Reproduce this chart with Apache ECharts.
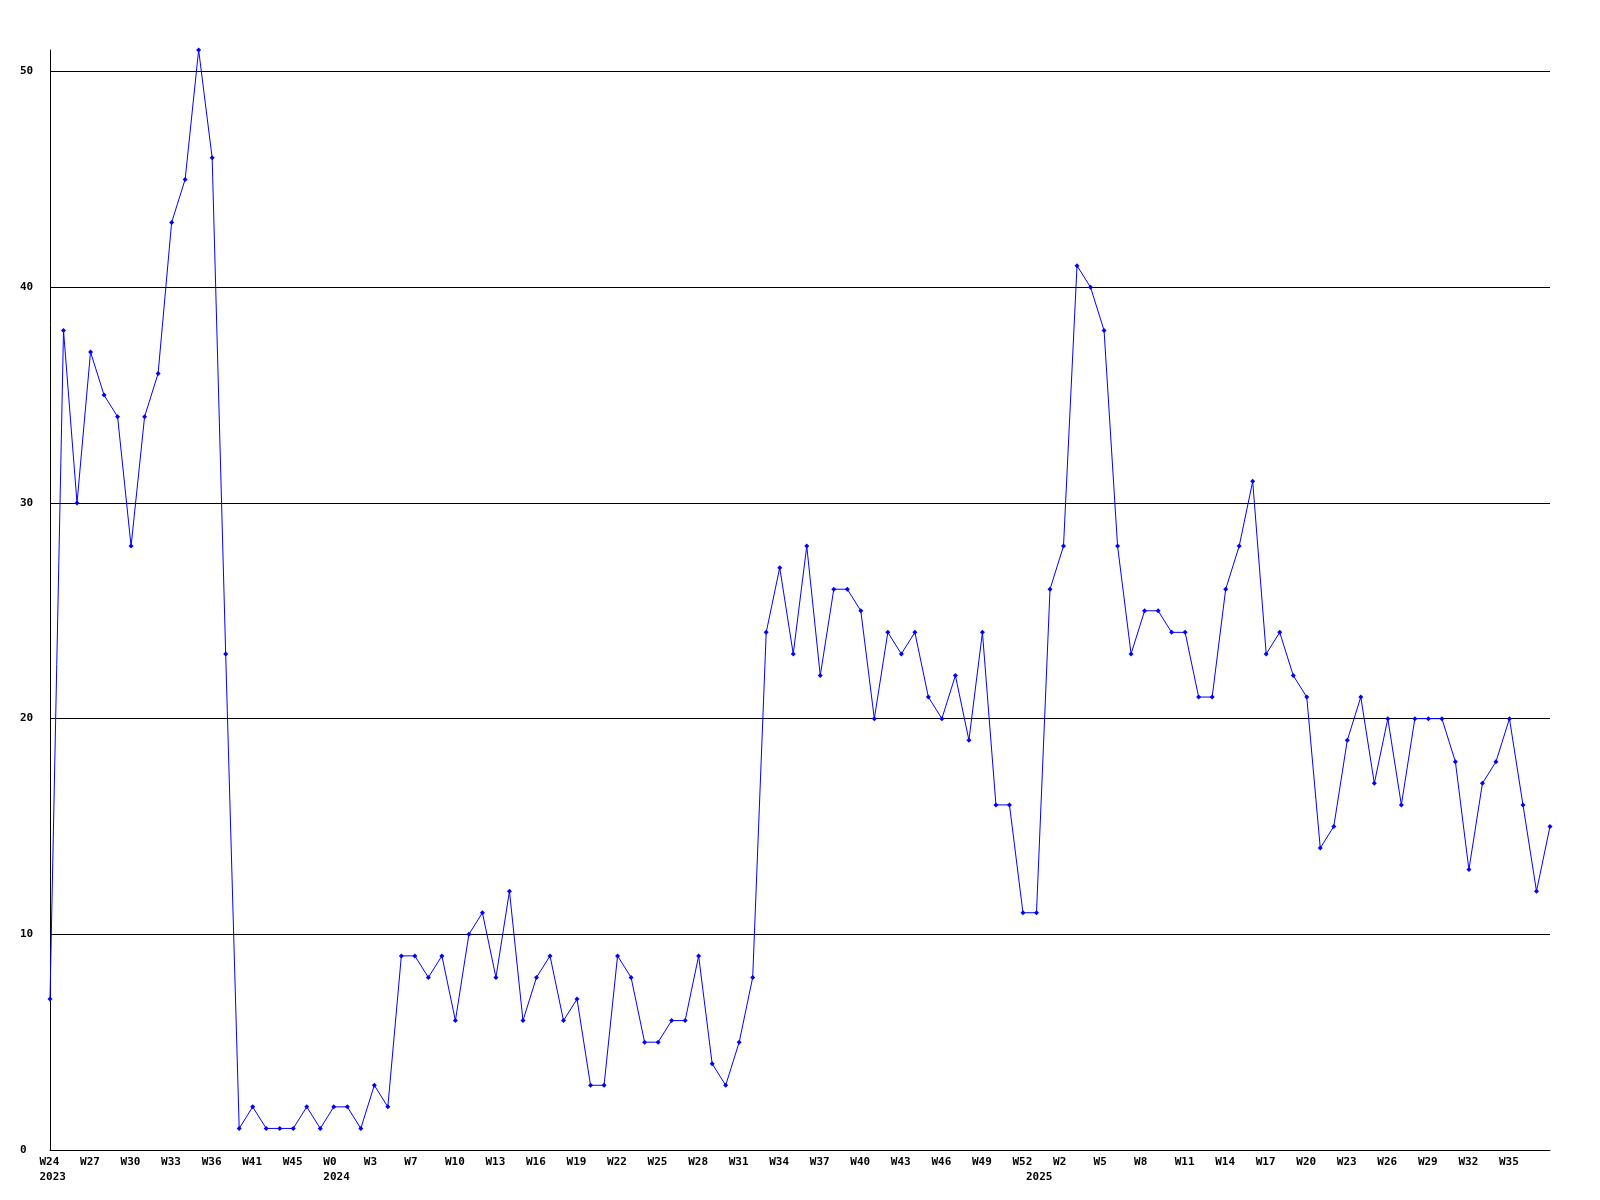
<!DOCTYPE html>
<html>
<head>
<meta charset="utf-8">
<script src="https://cdn.jsdelivr.net/npm/echarts@6/dist/echarts.min.js"></script>
<style>
  html, body { margin: 0; padding: 0; background: #fff; }
  #chart { width: 1600px; height: 1200px; }
</style>
</head>
<body>
<div id="chart"></div>
<script>
// week labels, one per data point (gaps in late 2023)
const weeks = [
  "W24", "W25", "W26", "W27", "W28", "W29", "W30", "W31", "W32", "W33",
  "W34", "W35", "W36", "W37", "W39", "W41", "W42", "W44", "W45", "W47",
  "W50", "W0", "W1", "W2", "W3", "W4", "W6", "W7", "W8", "W9",
  "W10", "W11", "W12", "W13", "W14", "W15", "W16", "W17", "W18", "W19",
  "W20", "W21", "W22", "W23", "W24", "W25", "W26", "W27", "W28", "W29",
  "W30", "W31", "W32", "W33", "W34", "W35", "W36", "W37", "W38", "W39",
  "W40", "W41", "W42", "W43", "W44", "W45", "W46", "W47", "W48", "W49",
  "W50", "W51", "W52", "W0", "W1", "W2", "W3", "W4", "W5", "W6",
  "W7", "W8", "W9", "W10", "W11", "W12", "W13", "W14", "W15", "W16",
  "W17", "W18", "W19", "W20", "W21", "W22", "W23", "W24", "W25", "W26",
  "W27", "W28", "W29", "W30", "W31", "W32", "W33", "W34", "W35", "W36",
  "W37", "W38"
];

// year shown under the first point of each year (index -> year)
const yearMarks = { 0: "2023", 21: "2024", 73: "2025" };

const counts = [
  7, 38, 30, 37, 35, 34, 28, 34, 36, 43,
  45, 51, 46, 23, 1, 2, 1, 1, 1, 2,
  1, 2, 2, 1, 3, 2, 9, 9, 8, 9,
  6, 10, 11, 8, 12, 6, 8, 9, 6, 7,
  3, 3, 9, 8, 5, 5, 6, 6, 9, 4,
  3, 5, 8, 24, 27, 23, 28, 22, 26, 26,
  25, 20, 24, 23, 24, 21, 20, 22, 19, 24,
  16, 16, 11, 11, 26, 28, 41, 40, 38, 28,
  23, 25, 25, 24, 24, 21, 21, 26, 28, 31,
  23, 24, 22, 21, 14, 15, 19, 21, 17, 20,
  16, 20, 20, 20, 18, 13, 17, 18, 20, 16,
  12, 15
];

const chart = echarts.init(document.getElementById("chart"));

const labelFont = {
  color: "#000",
  fontFamily: "DejaVu Sans Mono",
  fontWeight: "bold",
  fontSize: 11,
};

// every third week gets a label, plus the year starts
const showLabel = (index) =>
  index < weeks.length - 1 && (index % 3 === 0 || yearMarks[index] !== undefined);

chart.setOption({
  animation: false,
  backgroundColor: "#fff",
  grid: { left: 50, right: 50, top: 50, bottom: 50 },
  xAxis: {
    type: "category",
    data: weeks,
    boundaryGap: false,
    axisLine: { lineStyle: { color: "#000", width: 1 } },
    axisTick: { show: false },
    axisLabel: {
      ...labelFont,
      interval: showLabel,
      margin: 5,
      lineHeight: 15,
      verticalAlign: "top",
      hideOverlap: false,
      // labels start ~10px left of their point, year left-aligned below
      formatter: (value, index) => {
        const week = index % 3 === 0 ? value : " ";
        return yearMarks[index]
          ? "{w|" + week + "}\n{w|" + yearMarks[index] + "}"
          : "{w|" + week + "}";
      },
      rich: {
        w: { ...labelFont, width: 21, align: "left", lineHeight: 15 },
      },
    },
    splitLine: { show: false },
  },
  yAxis: {
    type: "value",
    min: 0,
    max: 51,
    interval: 10,
    axisLine: { show: true, lineStyle: { color: "#000", width: 1 } },
    axisTick: { show: false },
    axisLabel: {
      ...labelFont,
      align: "left",
      margin: 30,
      showMaxLabel: false,
    },
    splitLine: {
      show: true,
      showMaxLine: false,
      lineStyle: { color: "#000", width: 1 },
    },
  },
  series: [
    {
      type: "line",
      data: counts,
      symbol: "diamond",
      symbolSize: 5,
      showAllSymbol: true,
      lineStyle: { color: "#0000ff", width: 1 },
      itemStyle: { color: "#0000ff" },
    },
  ],
});
</script>
</body>
</html>
